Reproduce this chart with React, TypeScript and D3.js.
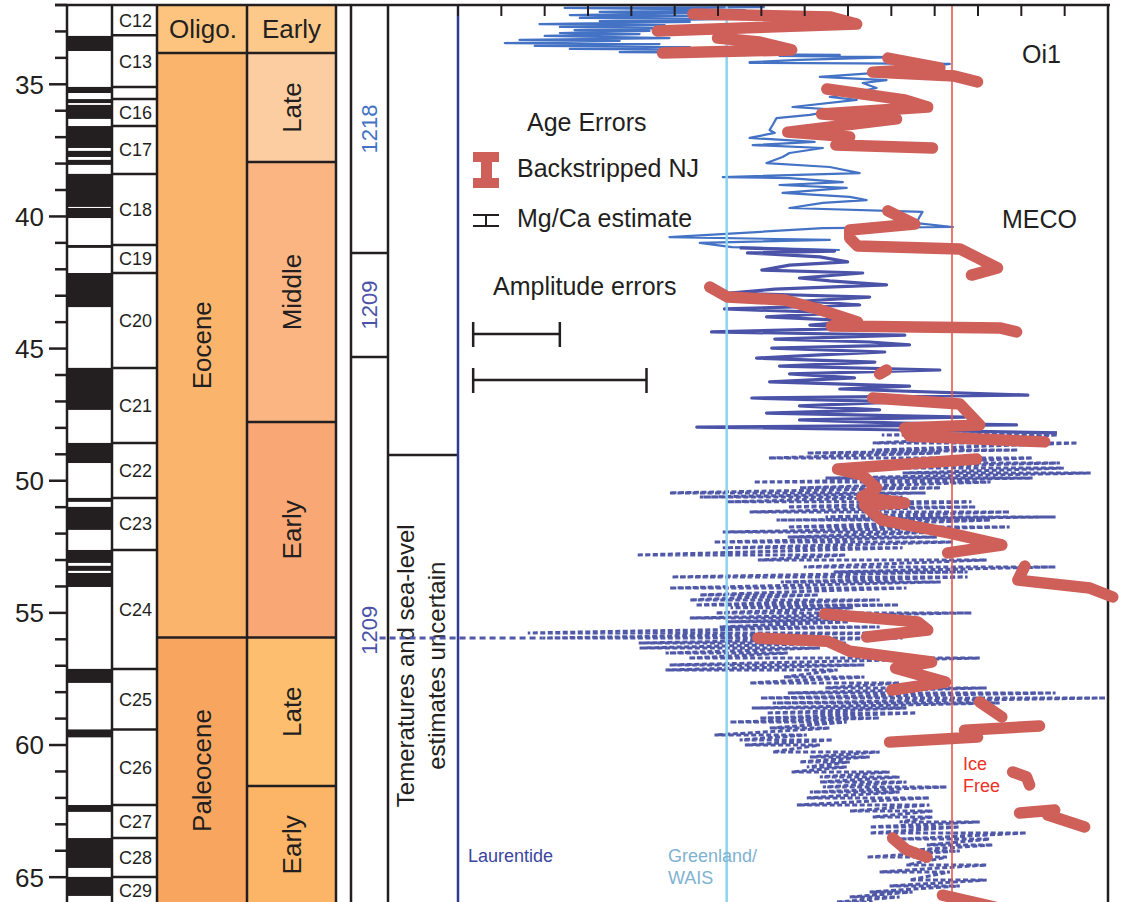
import React from 'react';
import * as d3 from 'd3';

// ---------------- DATA ----------------
const ageMajorTicks = [35, 40, 45, 50, 55, 60, 65];
const ageDomain: [number, number] = [32, 66];
const seaLevelDomain: [number, number] = [-50, 100];

// normal polarity intervals (Ma)
const normalPolarity: [number, number][] = [
  [33.17, 33.74], [35.1, 35.33], [35.56, 35.71], [35.78, 36.31], [36.58, 37.41],
  [37.52, 37.75], [37.86, 38.05], [38.39, 39.64], [39.68, 40.06], [41.08, 41.19],
  [42.14, 43.43], [45.73, 47.32], [48.57, 49.33], [50.65, 50.8], [50.99, 51.86],
  [52.62, 53.11], [53.22, 53.41], [53.49, 54.02], [57.12, 57.65], [59.41, 59.71],
  [62.27, 62.53], [63.52, 64.65], [64.99, 65.71],
];
const chronNames = ['C12', 'C13', '', 'C16', 'C17', 'C18', 'C19', 'C20', 'C21', 'C22', 'C23', 'C24', 'C25', 'C26', 'C27', 'C28', 'C29'];
const chronTops = [32, 33.14, 35.1, 35.56, 36.58, 38.39, 41.08, 42.14, 45.73, 48.57, 50.65, 52.62, 57.12, 59.41, 62.27, 63.52, 64.99];

const epochNames = ['Oligo.', 'Eocene', 'Paleocene'];
const epochBounds = [32, 33.82, 55.93, 66];
const epochColors = ['#FDC47F', '#FBB46C', '#F8A65F'];

const stageNames = ['Early', 'Late', 'Middle', 'Early', 'Late', 'Early'];
const stageBounds = [32, 33.82, 37.94, 47.78, 55.93, 61.55, 66];
const stageColors = ['#FDC98B', '#FCCDA0', '#FBB583', '#F9A774', '#FDBF6F', '#FCB467'];

const siteNames = ['1218', '1209', '1209'];
const siteBounds = [32, 41.38, 45.32, 66];
const siteColors = ['#4472C4', '#4B53A8', '#4B53A8'];

const uncertainFromAge = 49.03;
const uncertainLabelAge = 57.0;

const iceNames = ['Laurentide', 'Greenland/WAIS', 'Ice Free'];
const iceValues = [-50, 12, 64];
const iceColors = ['#2E3A94', '#8DD3F0', '#E8574F'];

const amplitudeErrors = [20, 40];

// Site 1218 record [age Ma, sea level m]
const site1218: [number, number][] = [
  [32.08, 20.8], [32.11, -25.4], [32.19, 16.2], [32.26, -17.3], [32.3, 10.4], [32.38, -24.2],
  [32.42, 5.8], [32.49, -21.9], [32.53, 13.8], [32.61, -17.3], [32.64, 3.5], [32.72, -31.2],
  [32.76, -2.3], [32.83, -26.5], [32.87, 1.2], [32.95, -23.1], [32.98, -5.8], [33.06, -26.5],
  [33.1, -8.1], [33.17, -30.0], [33.25, -1.2], [33.32, -35.8], [33.36, -12.7], [33.44, -39.2],
  [33.48, -3.5], [33.55, -32.3], [33.59, 3.5], [33.66, -24.2], [33.7, 16.2], [33.78, -12.7],
  [33.82, 26.5], [33.85, 5.8], [33.89, 38.1], [33.93, 24.2], [33.97, 50.8], [34.08, 28.8],
  [34.16, 17.3], [34.19, 17.3], [34.23, 63.5], [34.54, 48.9], [34.72, 33.5], [34.84, 48.9],
  [34.95, 43.4], [35.14, 46.6], [35.48, 35.8], [35.59, 42.0], [35.86, 27.2], [35.97, 38.1],
  [36.16, 31.2], [36.28, 23.5], [36.54, 22.6], [36.73, 21.9], [36.84, 23.1], [37.03, 17.3],
  [37.18, 32.3], [37.3, 18.0], [37.41, 34.2], [37.6, 26.5], [37.75, 24.9], [37.98, 21.2],
  [38.13, 35.8], [38.36, 42.7], [38.51, 11.1], [38.55, 26.5], [38.7, 38.8], [38.81, 24.2],
  [38.92, 39.7], [39.11, 24.9], [39.26, 40.4], [39.38, 44.3], [39.49, 34.2], [39.68, 26.5],
  [39.83, 57.2], [40.02, 56.5], [40.25, 55.8], [40.4, 64.2], [40.44, 34.2], [40.59, 18.9],
  [40.78, -1.2], [40.89, 35.8], [41.0, 5.8], [41.16, 13.2], [41.27, 38.1],
];

// Site 1209 record, continuous part
const site1209: [number, number][] = [
  [41.19, 15.0], [41.31, 36.9], [41.38, 16.8], [41.53, 33.5], [41.72, 39.9], [41.84, 26.5],
  [42.03, 20.1], [42.14, 43.4], [42.33, 28.8], [42.44, 35.8], [42.59, 48.9], [42.75, 23.1],
  [42.9, 12.7], [43.05, 45.0], [43.2, 30.0], [43.35, 42.7], [43.5, 11.5], [43.65, 38.1],
  [43.8, 21.2], [43.96, 42.7], [44.11, 31.2], [44.22, 45.0], [44.37, 8.5], [44.49, 53.1],
  [44.64, 23.1], [44.75, 45.0], [44.86, 54.2], [44.98, 22.4], [45.13, 48.5], [45.24, 33.5],
  [45.36, 18.9], [45.51, 46.2], [45.66, 24.2], [45.81, 61.2], [45.96, 26.5], [46.11, 41.5],
  [46.26, 21.9], [46.42, 54.2], [46.53, 38.1], [46.76, 81.5], [46.87, 17.8], [47.02, 51.9],
  [47.17, 28.8], [47.32, 47.3], [47.44, 21.2], [47.59, 66.9], [47.7, 28.8], [47.82, 51.9],
  [47.89, 78.9], [47.97, 5.1], [48.08, 53.1], [48.19, 88.2],
];

// Site 1209 uncertain part: [age, low swing, high swing]
const site1209Uncertain: [number, number, number][] = [
  [48.27, 47.8, 88.4], [48.57, 45.7, 93.0], [48.84, 45.5, 79.2], [48.95, 30.5, 61.4],
  [49.14, 21.7, 82.6], [49.33, 52.6, 88.9], [49.52, 36.7, 89.8], [49.71, 52.6, 96.0],
  [49.9, 34.8, 82.6], [50.05, 18.2, 72.9], [50.27, 28.8, 61.4], [50.46, -1.2, 57.9],
  [50.62, 5.8, 52.6], [50.8, 12.0, 68.5], [50.99, 26.1, 69.5], [51.18, 17.3, 77.3],
  [51.37, 34.8, 87.9], [51.49, 23.5, 72.9], [51.75, 26.1, 77.3], [51.94, 11.1, 62.3],
  [52.13, 26.1, 60.5], [52.32, 9.0, 64.2], [52.54, 11.1, 52.6], [52.81, -8.8, 39.5],
  [53.0, 19.2, 72.0], [53.26, 29.8, 87.9], [53.45, 36.7, 67.6], [53.64, -0.7, 67.6],
  [53.83, 24.5, 61.4], [54.06, -1.2, 53.5], [54.32, 5.8, 33.2], [54.51, 3.5, 47.3],
  [54.7, 4.8, 51.7], [54.81, 12.9, 41.1], [55.0, 9.5, 68.5], [55.19, 3.5, 51.9],
  [55.34, 12.0, 40.2], [55.53, 10.4, 47.3], [55.76, -33.9, 51.7], [55.95, -30.5, 52.6],
  [56.14, -8.3, 39.5], [56.33, -8.1, 33.5], [56.52, -2.1, 26.1], [56.71, 3.2, 70.4],
  [56.97, -1.2, 43.8], [57.16, -2.1, 37.6], [57.43, 25.2, 43.8], [57.65, 17.3, 51.9],
  [57.84, 34.8, 72.0], [58.03, 26.1, 87.9], [58.22, 19.8, 99.5], [58.41, 22.6, 75.0],
  [58.6, 17.8, 53.5], [58.79, 21.2, 55.8], [58.98, 19.6, 47.3], [59.13, 12.7, 39.7],
  [59.36, 21.9, 35.8], [59.62, 9.2, 30.5], [59.81, 15.0, 36.5], [60.0, 16.2, 33.5],
  [60.26, 22.6, 47.3], [60.45, 31.2, 45.0], [60.64, 28.8, 40.4], [60.83, 30.5, 39.7],
  [61.02, 27.0, 49.6], [61.21, 33.5, 51.9], [61.4, 33.5, 53.5], [61.59, 34.2, 62.8],
  [61.78, 31.2, 51.9], [62.0, 30.5, 58.8], [62.27, 28.2, 58.8], [62.5, 40.4, 59.5],
  [62.72, 45.7, 59.5], [62.91, 51.9, 70.4], [63.1, 45.0, 65.8], [63.33, 45.0, 81.2],
  [63.56, 51.9, 72.7], [63.78, 58.2, 73.4], [64.01, 51.9, 65.8], [64.24, 44.3, 62.8],
  [64.54, 53.5, 72.0], [64.8, 47.3, 63.5], [65.11, 54.2, 72.0], [65.33, 49.6, 65.8],
  [65.56, 45.0, 54.9], [65.75, 40.4, 51.9], [65.94, 37.4, 45.7],
];

// Paleocene-Eocene (PETM) excursion line [age, from m, to m]
const petmLine: [number, number, number] = [55.95, -68.1, -30.5];

// Backstripped New Jersey sea level segments [age, m]
const njSegments: [number, number][][] = [
  [[32.34, 4.2], [32.45, 35.8], [32.72, 42.0], [32.98, -4.0]],
  [[33.25, 9.9], [33.4, 19.6], [33.7, 27.0], [33.82, -2.8]],
  [[34.01, 49.2], [34.38, 61.2], [34.54, 45.7], [34.69, 64.6], [34.91, 69.9]],
  [[35.18, 35.1], [35.59, 53.1], [35.86, 58.4], [36.12, 33.9], [36.31, 51.2], [36.81, 26.1], [36.99, 40.4], [37.3, 37.2], [37.41, 59.5]],
  [[39.79, 49.2], [40.29, 55.4], [40.51, 40.4], [40.82, 40.4], [41.12, 42.2], [41.23, 65.8], [41.95, 74.5], [42.22, 68.5]],
  [[42.67, 8.1], [43.05, 12.2], [43.16, 25.4], [43.5, 33.0], [43.99, 42.2], [44.15, 36.2], [44.22, 75.0], [44.37, 78.9]],
  [[45.96, 47.3], [45.81, 48.9]],
  [[46.87, 45.7], [47.1, 65.8], [47.89, 70.4], [48.0, 53.1], [48.31, 54.2], [48.53, 85.4]],
  [[49.18, 69.7], [49.56, 37.6], [49.78, 43.2], [50.27, 46.6], [50.62, 43.2], [50.84, 53.1], [50.92, 43.8], [51.49, 47.8], [51.98, 63.5], [52.43, 75.5], [52.73, 63.0]],
  [[53.23, 80.8], [53.76, 79.2], [54.06, 95.8], [54.4, 101.1]],
  [[55.04, 34.6], [55.34, 56.1], [55.65, 58.4], [55.91, 44.3]],
  [[55.95, 19.2], [56.07, 35.3], [56.45, 40.4], [56.86, 59.3], [57.09, 51.0], [57.62, 62.5], [57.92, 50.1]],
  [[58.37, 70.4], [58.94, 75.5]],
  [[59.89, 49.6], [59.7, 69.9], [59.44, 66.9], [59.28, 84.2]],
  [[61.02, 78.0], [61.21, 81.2], [61.51, 81.9]],
  [[62.57, 79.6], [62.46, 87.7], [62.65, 86.1], [63.1, 94.6]],
  [[63.52, 50.3], [63.97, 53.5], [64.24, 58.2]],
  [[65.68, 61.8], [66.13, 73.9]],
];

// ---------------- CHART ----------------
const FONT = '"Liberation Sans", Arial, Helvetica, sans-serif';
const INK = '#231f20';
const RED = '#CE5F59';

export default function App() {
  const y = d3.scaleLinear().domain(ageDomain).range([5, 903.6]);
  const x = d3.scaleLinear().domain(seaLevelDomain).range([458, 1108]);
  const line = d3.line<number[]>().x(d => x(d[1])).y(d => y(d[0]));

  const X_AXIS = 67, X_POL = 112, X_CHR = 157, X_EP = 247, X_ST = 336;
  const X_S0 = 351, X_S1 = 388;
  const TOP = 5, BOT = 910;

  const uncertainPts: number[][] = [site1209[site1209.length - 1]];
  site1209Uncertain.forEach(r => { uncertainPts.push([r[0], r[1]]); uncertainPts.push([r[0], r[2]]); });

  const minorTicks = d3.range(32, 67).filter(a => !ageMajorTicks.includes(a));
  const xTicks = x.ticks(15);

  const rot = (cx: number, cy: number) => `translate(${cx},${cy}) rotate(-90)`;
  const frame = { stroke: INK, strokeWidth: 2.5 };

  return (
    <svg width={1130} height={902} style={{ position: 'absolute', left: 0, top: 0, background: '#fff' }} fontFamily={FONT}>
      <rect width={1130} height={902} fill="#fff" />

      {/* epoch & stage fills */}
      {epochNames.map((n, i) => (
        <rect key={'ep' + i} x={X_CHR} y={y(epochBounds[i])} width={X_EP - X_CHR} height={y(epochBounds[i + 1]) - y(epochBounds[i])} fill={epochColors[i]} />
      ))}
      {stageNames.map((n, i) => (
        <rect key={'st' + i} x={X_EP} y={y(stageBounds[i])} width={X_ST - X_EP} height={y(stageBounds[i + 1]) - y(stageBounds[i])} fill={stageColors[i]} />
      ))}

      {/* polarity */}
      {normalPolarity.map(([a, b], i) => (
        <rect key={'pol' + i} x={X_AXIS} y={y(a)} width={X_POL - X_AXIS} height={y(b) - y(a)} fill={INK} />
      ))}

      {/* separators */}
      {chronTops.slice(1).map((a, i) => (
        <line key={'ch' + i} x1={X_POL} x2={X_CHR} y1={y(a)} y2={y(a)} {...frame} />
      ))}
      {epochBounds.slice(1, -1).map((a, i) => (
        <line key={'eb' + i} x1={X_CHR} x2={X_EP} y1={y(a)} y2={y(a)} {...frame} />
      ))}
      {stageBounds.slice(1, -1).map((a, i) => (
        <line key={'sb' + i} x1={X_EP} x2={X_ST} y1={y(a)} y2={y(a)} {...frame} />
      ))}
      {siteBounds.slice(1, -1).map((a, i) => (
        <line key={'sib' + i} x1={X_S0} x2={X_S1} y1={y(a)} y2={y(a)} {...frame} />
      ))}
      <line x1={X_S1} x2={458} y1={y(uncertainFromAge)} y2={y(uncertainFromAge)} {...frame} />

      {/* verticals */}
      {[X_AXIS, X_POL, X_CHR, X_EP, X_ST, X_S0, X_S1, 1108].map((xx, i) => (
        <line key={'v' + i} x1={xx} x2={xx} y1={TOP} y2={BOT} {...frame} />
      ))}

      {/* left axis ticks */}
      {minorTicks.map(a => (
        <line key={'mt' + a} x1={55} x2={X_AXIS} y1={y(a)} y2={y(a)} {...frame} />
      ))}
      {ageMajorTicks.map(a => (
        <g key={'MT' + a}>
          <line x1={49} x2={X_AXIS} y1={y(a)} y2={y(a)} {...frame} />
          <text x={44} y={y(a)} dy="0.36em" textAnchor="end" fontSize={26} fill={INK}>{a}</text>
        </g>
      ))}

      {/* chron labels */}
      {chronNames.map((n, i) => {
        if (!n) return null;
        const a0 = chronTops[i];
        const a1 = i + 1 < chronTops.length ? chronTops[i + 1] : ageDomain[1];
        return (
          <text key={'cl' + i} x={(X_POL + X_CHR) / 2 + 1} y={(y(a0) + y(a1)) / 2} dy="0.36em" textAnchor="middle" fontSize={18} fill={INK}>{n}</text>
        );
      })}

      {/* epoch labels */}
      {epochNames.map((n, i) => {
        const cy = (y(epochBounds[i]) + y(epochBounds[i + 1])) / 2;
        const cx = (X_CHR + X_EP) / 2;
        return i === 0 ? (
          <text key={'el' + i} x={cx + 1} y={cy} dy="0.36em" textAnchor="middle" fontSize={26} fill={INK}>{n}</text>
        ) : (
          <text key={'el' + i} transform={rot(cx, cy)} dy="0.36em" textAnchor="middle" fontSize={26} fill={INK}>{n}</text>
        );
      })}
      {stageNames.map((n, i) => {
        const cy = (y(stageBounds[i]) + y(stageBounds[i + 1])) / 2;
        const cx = (X_EP + X_ST) / 2;
        return i === 0 ? (
          <text key={'sl' + i} x={cx} y={cy} dy="0.36em" textAnchor="middle" fontSize={26} fill={INK}>{n}</text>
        ) : (
          <text key={'sl' + i} transform={rot(cx, cy)} dy="0.36em" textAnchor="middle" fontSize={26} fill={INK}>{n}</text>
        );
      })}

      {/* site labels */}
      {siteNames.map((n, i) => (
        <text key={'site' + i} transform={rot((X_S0 + X_S1) / 2, (y(siteBounds[i]) + y(siteBounds[i + 1])) / 2)} dy="0.36em" textAnchor="middle" fontSize={22} fill={siteColors[i]}>{n}</text>
      ))}

      {/* uncertain text */}
      <g transform={rot(420, y(uncertainLabelAge))} fontSize={24} fill={INK} textAnchor="middle">
        <text y={-15} dy="0.36em">Temeratures and sea-level</text>
        <text y={16} dy="0.36em">estimates uncertain</text>
      </g>

      {/* records */}
      <path d={line(site1218)!} fill="none" stroke="#4472C4" strokeWidth={2.2} strokeLinejoin="round" />
      <path d={line(site1209)!} fill="none" stroke="#4A53A8" strokeWidth={3.2} strokeLinejoin="round" />
      <path d={line(uncertainPts)!} fill="none" stroke="#5059A8" strokeWidth={3} strokeDasharray="5 2.5" />
      <path d={line([[petmLine[0], petmLine[1]], [petmLine[0], petmLine[2]]])!} fill="none" stroke="#5059A8" strokeWidth={3} strokeDasharray="6 4" />

      {/* ice thresholds */}
      {iceValues.map((v, i) => (
        <line key={'ice' + i} x1={x(v)} x2={x(v)} y1={TOP} y2={BOT} stroke={iceColors[i]} strokeWidth={i === 2 ? 1.6 : 2.5} />
      ))}

      {/* NJ backstripped */}
      <g fill="none" stroke={RED} strokeWidth={11.5} strokeLinecap="round" strokeLinejoin="round">
        {njSegments.map((s, i) => <path key={'nj' + i} d={line(s)!} />)}
      </g>

      {/* top frame & ticks */}
      <line x1={55} x2={1110} y1={TOP} y2={TOP} {...frame} />
      {xTicks.map(t => (
        <line key={'xt' + t} x1={x(t)} x2={x(t)} y1={TOP} y2={16} stroke={INK} strokeWidth={2} />
      ))}

      {/* ice labels */}
      <text x={468} y={862} fontSize={18} fill="#3A46A0">{iceNames[0]}</text>
      <text x={668} y={862} fontSize={18} fill="#7FB2D0">Greenland/</text>
      <text x={668} y={884} fontSize={18} fill="#7FB2D0">WAIS</text>
      <text x={963} y={770} fontSize={18} fill="#EE3124">Ice</text>
      <text x={963} y={792} fontSize={18} fill="#EE3124">Free</text>

      {/* events */}
      <text x={1022} y={63} fontSize={25} fill={INK}>Oi1</text>
      <text x={1002} y={228} fontSize={25} fill={INK}>MECO</text>

      {/* legend */}
      <text x={527} y={131} fontSize={25} fill={INK}>Age Errors</text>
      <path d="M473,152 H499 V162 H492 V178 H499 V188 H473 V178 H481 V162 H473 Z" fill={RED} />
      <text x={517} y={177} fontSize={25} fill={INK}>Backstripped NJ</text>
      <g stroke={INK} strokeWidth={2}>
        <line x1={473} x2={499} y1={215} y2={215} />
        <line x1={473} x2={499} y1={226} y2={226} />
        <line x1={486} x2={486} y1={215} y2={226} />
      </g>
      <text x={517} y={227} fontSize={25} fill={INK}>Mg/Ca estimate</text>
      <text x={493} y={295} fontSize={25} fill={INK}>Amplitude errors</text>
      {amplitudeErrors.map((e, i) => {
        const x0 = x(-46.5);
        const x1 = x(-46.5 + e);
        const cy = 334 + i * 46;
        return (
          <g key={'amp' + i} stroke={INK} strokeWidth={2.5}>
            <line x1={x0} x2={x1} y1={cy} y2={cy} />
            <line x1={x0} x2={x0} y1={cy - 12} y2={cy + 13} />
            <line x1={x1} x2={x1} y1={cy - 12} y2={cy + 13} />
          </g>
        );
      })}
    </svg>
  );
}
